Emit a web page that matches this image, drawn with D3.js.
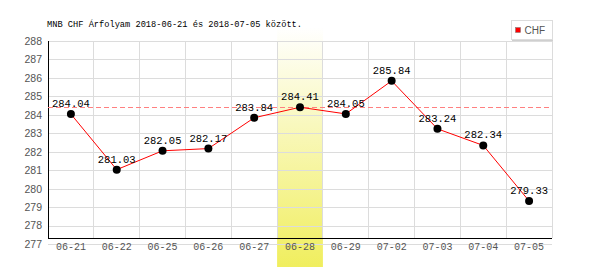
<!DOCTYPE html>
<html><head><meta charset="utf-8">
<script src="https://cdn.jsdelivr.net/npm/d3@7"></script>
<style>body{margin:0;background:#fff}svg{display:block}</style>
</head><body>
<script>
const categories = ["06-21","06-22","06-25","06-26","06-27","06-28","06-29","07-02","07-03","07-04","07-05"];
const values = [284.04,281.03,282.05,282.17,283.84,284.41,284.05,285.84,283.24,282.34,279.33];
const yTicks = [277,278,279,280,281,282,283,284,285,286,287,288];
const highlightCategory = "06-28";
const referenceValue = 284.41;
const seriesName = "CHF";
const titleText = "MNB CHF Árfolyam 2018-06-21 és 2018-07-05 között.";

const W = 600, H = 270;
const svg = d3.select("body").append("svg").attr("width", W).attr("height", H);
const x = d3.scaleBand().domain(categories).range([48, 552]).padding(0);
const y = d3.scaleLinear().domain([277, 288]).range([244, 41]);
const axisY = 238;
const mono = "Liberation Mono, DejaVu Sans Mono, monospace";

const defs = svg.append("defs");
const grad = defs.append("linearGradient").attr("id","hl").attr("x1",0).attr("y1",0).attr("x2",0).attr("y2",1);
grad.append("stop").attr("offset","0%").attr("stop-color","#ffffff");
grad.append("stop").attr("offset","100%").attr("stop-color","#f0ee5e");

// highlight band
svg.append("rect").attr("x", x(highlightCategory)).attr("y", 27)
  .attr("width", x.bandwidth()).attr("height", 240).attr("fill", "url(#hl)");

// horizontal gridlines + y labels
const gy = svg.append("g").attr("transform","translate(48,0)")
  .call(d3.axisLeft(y).tickValues(yTicks).tickSize(0).tickPadding(6).tickFormat(d3.format("d")));
gy.select(".domain").remove();
gy.selectAll(".tick text").attr("fill","#555").attr("font-family","Liberation Sans, Arial, sans-serif").attr("font-size","10.5px");
gy.selectAll(".tick").append("line").attr("x1",0).attr("x2",504).attr("stroke","#dcdcdc").attr("shape-rendering","crispEdges");
gy.selectAll(".tick text").raise();

// vertical gridlines
const bounds = categories.map(c => x(c) + x.bandwidth());
svg.append("g").selectAll("line").data(bounds).join("line")
  .attr("x1", d => d).attr("x2", d => d).attr("y1", y(288)).attr("y2", axisY)
  .attr("stroke","#dcdcdc").attr("shape-rendering","crispEdges");

// x labels
const gx = svg.append("g").attr("transform",`translate(0,${axisY})`)
  .call(d3.axisBottom(x).tickSize(0).tickPadding(5));
gx.select(".domain").remove();
gx.selectAll(".tick text").attr("fill","#555").attr("font-family",mono).attr("font-size","10px");

// axes lines
svg.append("line").attr("x1",48.5).attr("x2",48.5).attr("y1",y(288)).attr("y2",axisY).attr("stroke","#000");
svg.append("line").attr("x1",48).attr("x2",552).attr("y1",axisY+0.5).attr("y2",axisY+0.5).attr("stroke","#000");

// reference dashed line
svg.append("line").attr("x1",48).attr("x2",552).attr("y1",Math.round(y(referenceValue))+0.5).attr("y2",Math.round(y(referenceValue))+0.5)
  .attr("stroke","#ff8080").attr("stroke-dasharray","5,3");

// series line
const cx = c => x(c) + x.bandwidth()/2;
svg.append("path").datum(values)
  .attr("d", d3.line().x((d,i)=>cx(categories[i])).y(d=>y(d)))
  .attr("fill","none").attr("stroke","#ff0000").attr("stroke-width",1);

// points
svg.append("g").selectAll("circle").data(values).join("circle")
  .attr("cx",(d,i)=>cx(categories[i])).attr("cy",d=>y(d)).attr("r",4).attr("fill","#000");

// value labels
svg.append("g").selectAll("text").data(values).join("text")
  .attr("x",(d,i)=>cx(categories[i])).attr("y",d=>y(d)-7)
  .attr("text-anchor","middle").attr("font-family",mono).attr("font-size","10.5px").attr("fill","#000")
  .text(d=>d.toFixed(2));

// title
svg.append("text").attr("x",47).attr("y",26.5).attr("font-family",mono)
  .attr("font-size","9.5px").attr("textLength",255).attr("lengthAdjust","spacingAndGlyphs").attr("fill","#000").text(titleText);

// legend
const lg = svg.append("g");
lg.append("rect").attr("x",511.5).attr("y",20.5).attr("width",41).attr("height",19).attr("fill","#fff").attr("stroke","#dcdcdc");
lg.append("line").attr("x1",512).attr("x2",553).attr("y1",40.5).attr("y2",40.5).attr("stroke","#cfcfcf");
lg.append("rect").attr("x",515.5).attr("y",27.5).attr("width",5).attr("height",5).attr("fill","#ff0000").attr("stroke","#777").attr("stroke-width",0.5);
lg.append("text").attr("x",524.5).attr("y",34).attr("font-family","Liberation Sans, Arial, sans-serif").attr("font-size","10px").attr("fill","#555").text(seriesName);
</script>
</body></html>
